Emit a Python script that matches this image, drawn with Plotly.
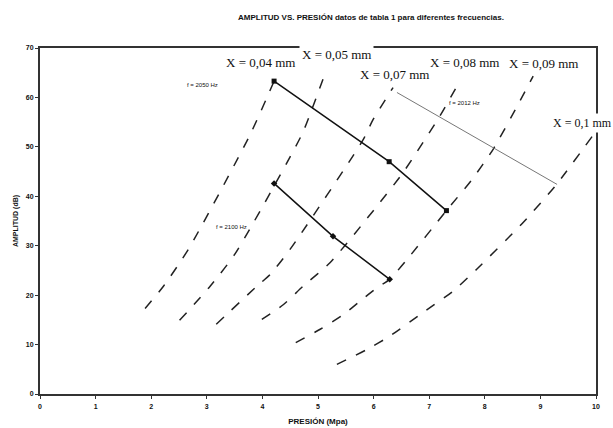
import plotly.graph_objects as go

# ---- data ----
x004_p = [1.89, 2.22, 2.67, 3.78, 4.21]
x004_a = [17.3, 21.8, 29.3, 52.5, 63.3]
x005_p = [2.51, 3.06, 3.51, 4.71, 4.89, 5.09]
x005_a = [14.9, 21.8, 28.4, 52.5, 57.6, 63.7]
x007_p = [3.17, 3.90, 4.14, 4.50, 5.81, 5.99, 6.35]
x007_a = [14.1, 21.8, 24.2, 29.3, 51.4, 55.5, 62.0]
x008_p = [3.99, 4.38, 4.73, 5.22, 6.06, 6.53, 7.19, 7.52]
x008_a = [15.1, 18.1, 21.8, 26.6, 38.0, 44.8, 56.2, 62.7]
x009_p = [4.60, 5.04, 5.46, 5.76, 6.06, 6.29, 6.60, 7.31, 7.77, 8.15, 8.58, 8.87]
x009_a = [10.4, 13.1, 16.1, 18.8, 21.5, 23.2, 27.2, 37.1, 43.4, 49.5, 58.2, 64.3]
x010_p = [5.34, 5.88, 6.29, 6.89, 7.43, 7.85, 8.69, 9.29, 9.93]
x010_a = [6.0, 9.0, 11.7, 16.5, 20.8, 25.2, 34.7, 42.4, 52.1]

f2050_p = [4.21, 6.28, 7.31]
f2050_a = [63.3, 47.0, 37.1]
f2100_p = [4.21, 5.27, 6.29]
f2100_a = [42.6, 31.9, 23.2]
f2012_p = [6.42, 9.30]
f2012_a = [61.0, 42.4]

x_labels = ["X = 0,04 mm", "X = 0,05 mm", "X = 0,07 mm", "X = 0,08 mm", "X = 0,09 mm", "X = 0,1 mm"]
x_label_p = [3.96, 5.34, 6.37, 7.64, 9.05, 9.17]
x_label_a = [67.1, 68.6, 64.6, 67.0, 66.8, 54.9]
f_labels = ["f = 2050 Hz", "f = 2012 Hz", "f = 2100 Hz"]
f_label_p = [2.93, 7.64, 3.45]
f_label_a = [62.6, 58.9, 33.8]

x_ticks = [0, 1, 2, 3, 4, 5, 6, 7, 8, 9, 10]
y_ticks = [0, 10, 20, 30, 40, 50, 60, 70]

fig = go.Figure()

dash_style = dict(color="#222222", width=1.5, dash="10px,11px", shape="spline", smoothing=0.6)
for p, a in [(x004_p, x004_a), (x005_p, x005_a), (x007_p, x007_a),
             (x008_p, x008_a), (x009_p, x009_a), (x010_p, x010_a)]:
    fig.add_trace(go.Scatter(x=p, y=a, mode="lines", line=dash_style,
                             showlegend=False, hoverinfo="skip"))

fig.add_trace(go.Scatter(x=f2012_p, y=f2012_a, mode="lines",
                         line=dict(color="#777777", width=1), showlegend=False))
fig.add_trace(go.Scatter(x=f2050_p, y=f2050_a, mode="lines+markers",
                         line=dict(color="#111111", width=1.5),
                         marker=dict(symbol="square", size=5, color="#111111"),
                         showlegend=False))
fig.add_trace(go.Scatter(x=f2100_p, y=f2100_a, mode="lines+markers",
                         line=dict(color="#111111", width=1.5),
                         marker=dict(symbol="diamond", size=5, color="#111111"),
                         showlegend=False))

annotations = []
for i, t in enumerate(x_labels):
    last = i == len(x_labels) - 1
    annotations.append(dict(
        x=x_label_p[i], y=x_label_a[i], xref="x", yref="y", text=t, showarrow=False,
        xanchor="left" if last else "center", yanchor="middle",
        font=dict(family="Liberation Serif", size=13 if not last else 12, color="#111111"),
        bgcolor="white", borderpad=2))
for i, t in enumerate(f_labels):
    annotations.append(dict(
        x=f_label_p[i], y=f_label_a[i], xref="x", yref="y", text=t, showarrow=False,
        xanchor="center", yanchor="middle",
        font=dict(family="Liberation Sans", size=6, color="#111111")))
annotations.append(dict(
    x=0.595, y=1.087, xref="paper", yref="paper",
    text="<b>AMPLITUD VS. PRESIÓN datos de tabla 1 para diferentes frecuencias.</b>",
    showarrow=False, xanchor="center", yanchor="middle",
    font=dict(family="Liberation Sans", size=8, color="#111111")))

fig.update_layout(
    width=613, height=428,
    margin=dict(l=40, r=17, t=48, b=34, autoexpand=False),
    paper_bgcolor="white", plot_bgcolor="white",
    annotations=annotations,
    showlegend=False,
)
fig.update_xaxes(
    range=[0, 10], tickvals=x_ticks, ticktext=[str(v) for v in x_ticks],
    showgrid=False, zeroline=False, showline=True, linecolor="#333333", linewidth=2,
    mirror=True, ticks="outside", ticklen=3, tickcolor="#333333", ticklabelstandoff=2,
    automargin=False,
    tickfont=dict(family="Liberation Sans", size=7, color="#111111", weight="bold"),
    title=dict(text="<b>PRESIÓN (Mpa)</b>", standoff=9,
               font=dict(family="Liberation Sans", size=8, color="#111111")))
fig.update_yaxes(
    range=[0, 70], tickvals=y_ticks, ticktext=[str(v) for v in y_ticks],
    showgrid=False, zeroline=False, showline=True, linecolor="#333333", linewidth=2,
    mirror=True, ticks="outside", ticklen=3, tickcolor="#333333",
    automargin=False,
    tickfont=dict(family="Liberation Sans", size=7, color="#111111", weight="bold"),
    title=dict(text="<b>AMPLITUD (dB)</b>", standoff=6,
               font=dict(family="Liberation Sans", size=7, color="#111111")))

fig.write_html("out.html")
